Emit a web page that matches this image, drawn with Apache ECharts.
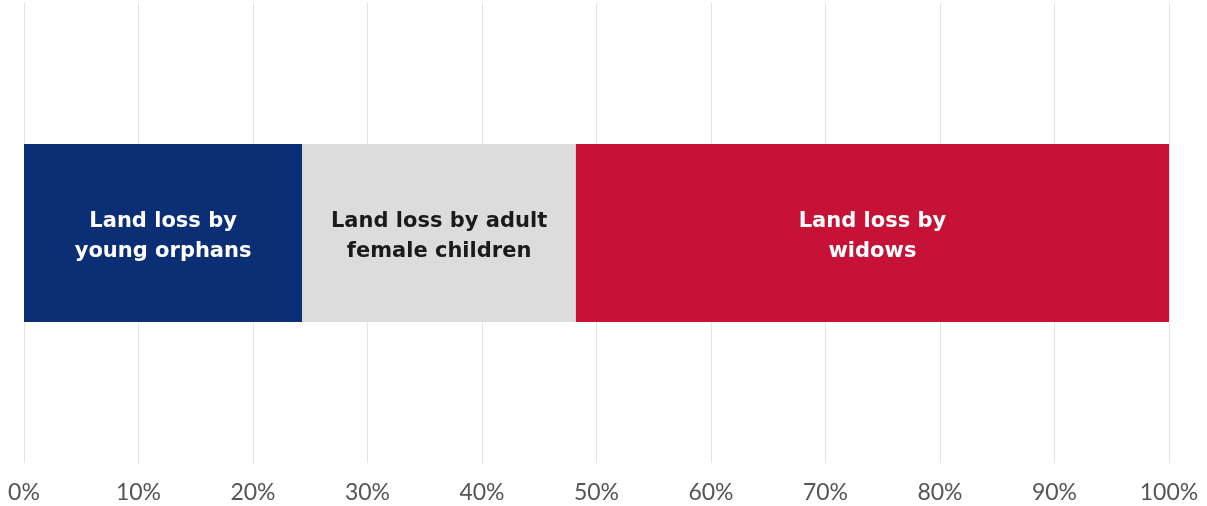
<!DOCTYPE html>
<html><head><meta charset="utf-8">
<script src="https://cdn.jsdelivr.net/npm/echarts@6/dist/echarts.min.js"></script>
<style>html,body{margin:0;padding:0;background:#fff}#c{width:1207px;height:506px}</style>
</head><body><div id="c"></div>
<script>
const categories = ['Share'];
const seriesNames = ['Land loss by\nyoung orphans', 'Land loss by adult\nfemale children', 'Land loss by\nwidows'];
const orphans = [24.3];
const femaleChildren = [23.9];
const widows = [51.8];
const tickValues = [0,10,20,30,40,50,60,70,80,90,100];

const colors = ['#0b2e75', '#dcdcdc', '#c51236'];
const labelColors = ['#ffffff', '#1a1a1a', '#ffffff'];
const dataSets = [orphans, femaleChildren, widows];

const chart = echarts.init(document.getElementById('c'));
chart.setOption({
  animation: false,
  grid: {left: 24, right: 38, top: 3, bottom: 43},
  xAxis: {
    type: 'value', min: 0, max: 100, interval: 10,
    axisLine: {show: false}, axisTick: {show: false},
    splitLine: {show: true, lineStyle: {color: '#e3e3e3', width: 1}},
    axisLabel: {formatter: v => v + '%', color: '#555', fontFamily: 'Lato', fontSize: 23, margin: 18}
  },
  yAxis: {
    type: 'category', data: categories, show: false
  },
  series: dataSets.map((d, i) => ({
    type: 'bar', stack: 'total', name: seriesNames[i], data: d,
    barWidth: 178,
    itemStyle: {color: colors[i]},
    label: {
      show: true, position: 'inside', formatter: seriesNames[i], offset: [0, 4],
      color: labelColors[i], fontFamily: 'DejaVu Sans', fontWeight: 'bold', fontSize: 21, lineHeight: 30
    }
  }))
});
</script></body></html>
